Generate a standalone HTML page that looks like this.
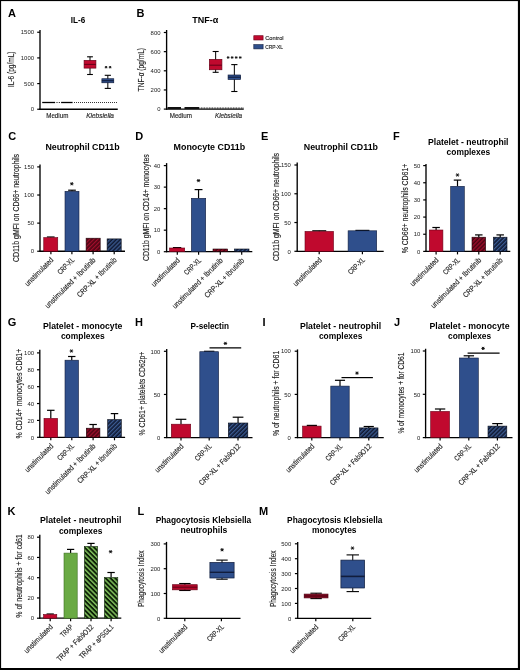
<!DOCTYPE html>
<html><head><meta charset="utf-8"><title>Figure</title>
<style>html,body{margin:0;padding:0;background:#fff;width:520px;height:670px;overflow:hidden}</style>
</head><body>
<svg width="520" height="670" viewBox="0 0 520 670" style="display:block;filter:blur(0.3px)">
<defs>
<pattern id="hr" patternUnits="userSpaceOnUse" width="2.9" height="2.9" patternTransform="rotate(45)"><rect width="2.9" height="2.9" fill="#4a0512"/><rect width="1.3" height="2.9" fill="#a00d2c"/></pattern>
<pattern id="hb" patternUnits="userSpaceOnUse" width="2.9" height="2.9" patternTransform="rotate(45)"><rect width="2.9" height="2.9" fill="#0f1932"/><rect width="1.3" height="2.9" fill="#3b5b92"/></pattern>
<pattern id="hg" patternUnits="userSpaceOnUse" width="3.4" height="3.4" patternTransform="rotate(-45)"><rect width="3.4" height="3.4" fill="#0c2006"/><rect width="1.5" height="3.4" fill="#80bf5c"/></pattern>
</defs>
<rect x="0" y="0" width="520" height="670" fill="#fff"/>
<g font-family='"Liberation Sans", sans-serif'>
<text x="8.00" y="16.60" font-size="11.0" text-anchor="start" font-weight="bold" font-style="normal" fill="#000">A</text>
<text x="78.00" y="23.30" font-size="8.2" text-anchor="middle" font-weight="bold" font-style="normal" fill="#000" textLength="14.4" lengthAdjust="spacingAndGlyphs">IL-6</text>
<line x1="40.00" y1="30.00" x2="40.00" y2="109.75" stroke="#000" stroke-width="1.35"/>
<line x1="37.20" y1="109.25" x2="40.00" y2="109.25" stroke="#000" stroke-width="1.2"/>
<text x="34.00" y="111.48" font-size="6.2" text-anchor="end" font-weight="normal" font-style="normal" fill="#222" textLength="3.3" lengthAdjust="spacingAndGlyphs" stroke="none">0</text>
<line x1="37.20" y1="83.58" x2="40.00" y2="83.58" stroke="#000" stroke-width="1.2"/>
<text x="34.00" y="85.82" font-size="6.2" text-anchor="end" font-weight="normal" font-style="normal" fill="#222" textLength="9.9" lengthAdjust="spacingAndGlyphs" stroke="none">500</text>
<line x1="37.20" y1="57.92" x2="40.00" y2="57.92" stroke="#000" stroke-width="1.2"/>
<text x="34.00" y="60.15" font-size="6.2" text-anchor="end" font-weight="normal" font-style="normal" fill="#222" textLength="13.2" lengthAdjust="spacingAndGlyphs" stroke="none">1000</text>
<line x1="37.20" y1="32.25" x2="40.00" y2="32.25" stroke="#000" stroke-width="1.2"/>
<text x="34.00" y="34.48" font-size="6.2" text-anchor="end" font-weight="normal" font-style="normal" fill="#222" textLength="13.2" lengthAdjust="spacingAndGlyphs" stroke="none">1500</text>
<line x1="39.40" y1="109.25" x2="117.75" y2="109.25" stroke="#000" stroke-width="1.3"/>
<text transform="translate(14.00,69.30) rotate(-90)" font-size="8.2" text-anchor="middle" font-weight="normal" font-style="normal" fill="#222" textLength="35.6" lengthAdjust="spacingAndGlyphs" stroke="#222" stroke-width="0.14">IL-6 (pg/mL)</text>
<text x="57.30" y="117.60" font-size="6.9" text-anchor="middle" font-weight="normal" font-style="normal" fill="#222" textLength="22.2" lengthAdjust="spacingAndGlyphs" stroke="#222" stroke-width="0.14">Medium</text>
<text x="100.10" y="117.60" font-size="6.9" text-anchor="middle" font-weight="normal" font-style="italic" fill="#222" textLength="27.8" lengthAdjust="spacingAndGlyphs" stroke="#222" stroke-width="0.14">Klebsiella</text>
<line x1="42.20" y1="102.50" x2="55.10" y2="102.50" stroke="#000" stroke-width="1.3"/>
<line x1="61.10" y1="102.50" x2="72.60" y2="102.50" stroke="#000" stroke-width="1.3"/>
<line x1="56.50" y1="102.50" x2="60.50" y2="102.50" stroke="#000" stroke-width="1.0" stroke-dasharray="1,1.3"/>
<line x1="74.00" y1="102.50" x2="117.50" y2="102.50" stroke="#000" stroke-width="0.8" stroke-dasharray="1,1"/>
<line x1="90.00" y1="56.80" x2="90.00" y2="74.50" stroke="#000" stroke-width="1.0"/>
<line x1="87.10" y1="56.80" x2="92.90" y2="56.80" stroke="#000" stroke-width="1.1"/>
<line x1="87.10" y1="74.50" x2="92.90" y2="74.50" stroke="#000" stroke-width="1.1"/>
<rect x="84.10" y="60.40" width="11.80" height="7.70" fill="#c0092e" stroke="#6a0018" stroke-width="0.7"/>
<line x1="84.10" y1="64.40" x2="95.90" y2="64.40" stroke="#6a0018" stroke-width="1.1"/>
<line x1="107.83" y1="75.30" x2="107.83" y2="88.40" stroke="#000" stroke-width="1.0"/>
<line x1="104.73" y1="75.30" x2="110.92" y2="75.30" stroke="#000" stroke-width="1.1"/>
<line x1="104.73" y1="88.40" x2="110.92" y2="88.40" stroke="#000" stroke-width="1.1"/>
<rect x="101.90" y="78.75" width="11.85" height="4.00" fill="#2f4f8c" stroke="#111d3c" stroke-width="0.7"/>
<line x1="101.90" y1="80.70" x2="113.75" y2="80.70" stroke="#111d3c" stroke-width="1.1"/>
<path d="M105.12,67.20h1.90M105.60,66.38l0.95,1.65M105.60,68.02l0.95,-1.65" stroke="#111" stroke-width="0.85" stroke-linecap="round"/>
<path d="M109.17,67.20h1.90M109.65,66.38l0.95,1.65M109.65,68.02l0.95,-1.65" stroke="#111" stroke-width="0.85" stroke-linecap="round"/>
<text x="136.40" y="16.90" font-size="11.0" text-anchor="start" font-weight="bold" font-style="normal" fill="#000">B</text>
<text x="205.30" y="23.30" font-size="8.2" text-anchor="middle" font-weight="bold" font-style="normal" fill="#000" textLength="26.0" lengthAdjust="spacingAndGlyphs">TNF-α</text>
<line x1="166.60" y1="30.00" x2="166.60" y2="109.60" stroke="#000" stroke-width="1.35"/>
<line x1="163.80" y1="109.10" x2="166.60" y2="109.10" stroke="#000" stroke-width="1.2"/>
<text x="160.50" y="111.33" font-size="6.2" text-anchor="end" font-weight="normal" font-style="normal" fill="#222" textLength="3.3" lengthAdjust="spacingAndGlyphs" stroke="none">0</text>
<line x1="163.80" y1="89.95" x2="166.60" y2="89.95" stroke="#000" stroke-width="1.2"/>
<text x="160.50" y="92.18" font-size="6.2" text-anchor="end" font-weight="normal" font-style="normal" fill="#222" textLength="9.9" lengthAdjust="spacingAndGlyphs" stroke="none">200</text>
<line x1="163.80" y1="70.80" x2="166.60" y2="70.80" stroke="#000" stroke-width="1.2"/>
<text x="160.50" y="73.03" font-size="6.2" text-anchor="end" font-weight="normal" font-style="normal" fill="#222" textLength="9.9" lengthAdjust="spacingAndGlyphs" stroke="none">400</text>
<line x1="163.80" y1="51.65" x2="166.60" y2="51.65" stroke="#000" stroke-width="1.2"/>
<text x="160.50" y="53.88" font-size="6.2" text-anchor="end" font-weight="normal" font-style="normal" fill="#222" textLength="9.9" lengthAdjust="spacingAndGlyphs" stroke="none">600</text>
<line x1="163.80" y1="32.50" x2="166.60" y2="32.50" stroke="#000" stroke-width="1.2"/>
<text x="160.50" y="34.73" font-size="6.2" text-anchor="end" font-weight="normal" font-style="normal" fill="#222" textLength="9.9" lengthAdjust="spacingAndGlyphs" stroke="none">800</text>
<line x1="166.00" y1="109.10" x2="243.75" y2="109.10" stroke="#000" stroke-width="1.3"/>
<text transform="translate(144.00,69.70) rotate(-90)" font-size="8.2" text-anchor="middle" font-weight="normal" font-style="normal" fill="#222" textLength="43.4" lengthAdjust="spacingAndGlyphs" stroke="#222" stroke-width="0.14">TNF-α (pg/mL)</text>
<text x="180.80" y="117.60" font-size="6.9" text-anchor="middle" font-weight="normal" font-style="normal" fill="#222" textLength="22.2" lengthAdjust="spacingAndGlyphs" stroke="#222" stroke-width="0.14">Medium</text>
<text x="228.50" y="117.60" font-size="6.9" text-anchor="middle" font-weight="normal" font-style="italic" fill="#222" textLength="27.2" lengthAdjust="spacingAndGlyphs" stroke="#222" stroke-width="0.14">Klebsiella</text>
<rect x="167.50" y="107.00" width="13.50" height="2.00" fill="#111"/>
<rect x="184.50" y="107.00" width="14.50" height="2.00" fill="#111"/>
<line x1="199.40" y1="108.00" x2="243.50" y2="108.00" stroke="#000" stroke-width="1.2" stroke-dasharray="0.8,0.8"/>
<line x1="215.65" y1="51.50" x2="215.65" y2="72.30" stroke="#000" stroke-width="1.0"/>
<line x1="212.65" y1="51.50" x2="218.65" y2="51.50" stroke="#000" stroke-width="1.1"/>
<line x1="212.65" y1="72.30" x2="218.65" y2="72.30" stroke="#000" stroke-width="1.1"/>
<rect x="209.40" y="59.40" width="12.50" height="10.35" fill="#c0092e" stroke="#6a0018" stroke-width="0.7"/>
<line x1="209.40" y1="65.20" x2="221.90" y2="65.20" stroke="#6a0018" stroke-width="1.1"/>
<line x1="234.35" y1="64.60" x2="234.35" y2="91.50" stroke="#000" stroke-width="1.0"/>
<line x1="231.25" y1="64.60" x2="237.45" y2="64.60" stroke="#000" stroke-width="1.1"/>
<line x1="231.25" y1="91.50" x2="237.45" y2="91.50" stroke="#000" stroke-width="1.1"/>
<rect x="228.10" y="75.00" width="12.50" height="4.40" fill="#2f4f8c" stroke="#111d3c" stroke-width="0.7"/>
<line x1="228.10" y1="77.20" x2="240.60" y2="77.20" stroke="#111d3c" stroke-width="1.1"/>
<path d="M227.18,57.50h1.90M227.65,56.68l0.95,1.65M227.65,58.32l0.95,-1.65" stroke="#111" stroke-width="0.85" stroke-linecap="round"/>
<path d="M231.22,57.50h1.90M231.70,56.68l0.95,1.65M231.70,58.32l0.95,-1.65" stroke="#111" stroke-width="0.85" stroke-linecap="round"/>
<path d="M235.28,57.50h1.90M235.75,56.68l0.95,1.65M235.75,58.32l0.95,-1.65" stroke="#111" stroke-width="0.85" stroke-linecap="round"/>
<path d="M239.32,57.50h1.90M239.80,56.68l0.95,1.65M239.80,58.32l0.95,-1.65" stroke="#111" stroke-width="0.85" stroke-linecap="round"/>
<rect x="253.80" y="35.70" width="9.30" height="4.30" fill="#c0092e" stroke="#6a0018" stroke-width="0.6"/>
<rect x="253.80" y="44.60" width="9.30" height="4.30" fill="#2f4f8c" stroke="#111d3c" stroke-width="0.6"/>
<text x="265.20" y="39.60" font-size="6.2" text-anchor="start" font-weight="normal" font-style="normal" fill="#222" textLength="18.4" lengthAdjust="spacingAndGlyphs" stroke="#222" stroke-width="0.14">Control</text>
<text x="265.20" y="48.60" font-size="6.2" text-anchor="start" font-weight="normal" font-style="normal" fill="#222" textLength="17.9" lengthAdjust="spacingAndGlyphs" stroke="#222" stroke-width="0.14">CRP-XL</text>
<text x="8.20" y="139.80" font-size="11.0" text-anchor="start" font-weight="bold" font-style="normal" fill="#000">C</text>
<text x="82.50" y="150.00" font-size="8.2" text-anchor="middle" font-weight="bold" font-style="normal" fill="#000" textLength="74.2" lengthAdjust="spacingAndGlyphs">Neutrophil CD11b</text>
<line x1="40.00" y1="164.40" x2="40.00" y2="251.75" stroke="#000" stroke-width="1.35"/>
<line x1="37.20" y1="251.25" x2="40.00" y2="251.25" stroke="#000" stroke-width="1.2"/>
<text x="34.00" y="253.48" font-size="6.2" text-anchor="end" font-weight="normal" font-style="normal" fill="#222" textLength="3.3" lengthAdjust="spacingAndGlyphs" stroke="none">0</text>
<line x1="37.20" y1="223.13" x2="40.00" y2="223.13" stroke="#000" stroke-width="1.2"/>
<text x="34.00" y="225.37" font-size="6.2" text-anchor="end" font-weight="normal" font-style="normal" fill="#222" textLength="6.6" lengthAdjust="spacingAndGlyphs" stroke="none">50</text>
<line x1="37.20" y1="195.02" x2="40.00" y2="195.02" stroke="#000" stroke-width="1.2"/>
<text x="34.00" y="197.25" font-size="6.2" text-anchor="end" font-weight="normal" font-style="normal" fill="#222" textLength="9.9" lengthAdjust="spacingAndGlyphs" stroke="none">100</text>
<line x1="37.20" y1="166.90" x2="40.00" y2="166.90" stroke="#000" stroke-width="1.2"/>
<text x="34.00" y="169.13" font-size="6.2" text-anchor="end" font-weight="normal" font-style="normal" fill="#222" textLength="9.9" lengthAdjust="spacingAndGlyphs" stroke="none">150</text>
<line x1="39.40" y1="251.25" x2="125.00" y2="251.25" stroke="#000" stroke-width="1.3"/>
<line x1="50.90" y1="251.25" x2="50.90" y2="254.25" stroke="#000" stroke-width="1.2"/>
<line x1="71.90" y1="251.25" x2="71.90" y2="254.25" stroke="#000" stroke-width="1.2"/>
<line x1="93.10" y1="251.25" x2="93.10" y2="254.25" stroke="#000" stroke-width="1.2"/>
<line x1="114.20" y1="251.25" x2="114.20" y2="254.25" stroke="#000" stroke-width="1.2"/>
<text transform="translate(19.10,207.95) rotate(-90)" font-size="8.2" text-anchor="middle" font-weight="normal" font-style="normal" fill="#222" textLength="108.1" lengthAdjust="spacingAndGlyphs" stroke="#222" stroke-width="0.14">CD11b gMFI on CD66+ neutrophils</text>
<line x1="50.75" y1="237.60" x2="50.75" y2="237.00" stroke="#000" stroke-width="1.2"/>
<line x1="46.90" y1="237.00" x2="54.60" y2="237.00" stroke="#000" stroke-width="1.2"/>
<rect x="43.75" y="237.60" width="14.00" height="13.65" fill="#c0092e" stroke="#6a0018" stroke-width="0.6"/>
<line x1="72.00" y1="191.30" x2="72.00" y2="190.20" stroke="#000" stroke-width="1.2"/>
<line x1="68.15" y1="190.20" x2="75.85" y2="190.20" stroke="#000" stroke-width="1.2"/>
<rect x="65.00" y="191.30" width="14.00" height="59.95" fill="#2f4f8c" stroke="#111d3c" stroke-width="0.6"/>
<rect x="86.10" y="238.20" width="14.10" height="13.05" fill="url(#hr)" stroke="#1a0005" stroke-width="0.6"/>
<rect x="107.10" y="238.90" width="14.10" height="12.35" fill="url(#hb)" stroke="#050a18" stroke-width="0.6"/>
<path d="M70.45,183.80h2.70M71.12,182.63l1.35,2.34M71.12,184.97l1.35,-2.34" stroke="#111" stroke-width="1.0" stroke-linecap="round"/>
<text transform="translate(53.90,260.55) rotate(-45)" font-size="7.6" text-anchor="end" font-weight="normal" font-style="normal" fill="#222" textLength="37.0" lengthAdjust="spacingAndGlyphs" stroke="#222" stroke-width="0.14">unstimulated</text>
<text transform="translate(74.90,260.55) rotate(-45)" font-size="7.6" text-anchor="end" font-weight="normal" font-style="normal" fill="#222" textLength="20.5" lengthAdjust="spacingAndGlyphs" stroke="#222" stroke-width="0.14">CRP-XL</text>
<text transform="translate(96.10,260.55) rotate(-45)" font-size="7.6" text-anchor="end" font-weight="normal" font-style="normal" fill="#222" textLength="68.0" lengthAdjust="spacingAndGlyphs" stroke="#222" stroke-width="0.14">unstimulated + Ibrutinib</text>
<text transform="translate(117.20,260.55) rotate(-45)" font-size="7.6" text-anchor="end" font-weight="normal" font-style="normal" fill="#222" textLength="52.7" lengthAdjust="spacingAndGlyphs" stroke="#222" stroke-width="0.14">CRP-XL + Ibrutinib</text>
<text x="135.20" y="139.80" font-size="11.0" text-anchor="start" font-weight="bold" font-style="normal" fill="#000">D</text>
<text x="209.38" y="150.00" font-size="8.2" text-anchor="middle" font-weight="bold" font-style="normal" fill="#000" textLength="71.65" lengthAdjust="spacingAndGlyphs">Monocyte CD11b</text>
<line x1="166.60" y1="163.10" x2="166.60" y2="252.20" stroke="#000" stroke-width="1.35"/>
<line x1="163.80" y1="251.70" x2="166.60" y2="251.70" stroke="#000" stroke-width="1.2"/>
<text x="160.30" y="253.93" font-size="6.2" text-anchor="end" font-weight="normal" font-style="normal" fill="#222" textLength="3.3" lengthAdjust="spacingAndGlyphs" stroke="none">0</text>
<line x1="163.80" y1="230.17" x2="166.60" y2="230.17" stroke="#000" stroke-width="1.2"/>
<text x="160.30" y="232.41" font-size="6.2" text-anchor="end" font-weight="normal" font-style="normal" fill="#222" textLength="6.6" lengthAdjust="spacingAndGlyphs" stroke="none">10</text>
<line x1="163.80" y1="208.65" x2="166.60" y2="208.65" stroke="#000" stroke-width="1.2"/>
<text x="160.30" y="210.88" font-size="6.2" text-anchor="end" font-weight="normal" font-style="normal" fill="#222" textLength="6.6" lengthAdjust="spacingAndGlyphs" stroke="none">20</text>
<line x1="163.80" y1="187.12" x2="166.60" y2="187.12" stroke="#000" stroke-width="1.2"/>
<text x="160.30" y="189.36" font-size="6.2" text-anchor="end" font-weight="normal" font-style="normal" fill="#222" textLength="6.6" lengthAdjust="spacingAndGlyphs" stroke="none">30</text>
<line x1="163.80" y1="165.60" x2="166.60" y2="165.60" stroke="#000" stroke-width="1.2"/>
<text x="160.30" y="167.83" font-size="6.2" text-anchor="end" font-weight="normal" font-style="normal" fill="#222" textLength="6.6" lengthAdjust="spacingAndGlyphs" stroke="none">40</text>
<line x1="166.00" y1="251.70" x2="252.30" y2="251.70" stroke="#000" stroke-width="1.3"/>
<line x1="177.30" y1="251.70" x2="177.30" y2="254.70" stroke="#000" stroke-width="1.2"/>
<line x1="198.60" y1="251.70" x2="198.60" y2="254.70" stroke="#000" stroke-width="1.2"/>
<line x1="220.30" y1="251.70" x2="220.30" y2="254.70" stroke="#000" stroke-width="1.2"/>
<line x1="241.70" y1="251.70" x2="241.70" y2="254.70" stroke="#000" stroke-width="1.2"/>
<text transform="translate(149.10,207.70) rotate(-90)" font-size="8.2" text-anchor="middle" font-weight="normal" font-style="normal" fill="#222" textLength="106.8" lengthAdjust="spacingAndGlyphs" stroke="#222" stroke-width="0.14">CD11b gMFI on CD14+ monocytes</text>
<line x1="177.10" y1="248.00" x2="177.10" y2="247.60" stroke="#000" stroke-width="1.2"/>
<line x1="172.92" y1="247.60" x2="181.28" y2="247.60" stroke="#000" stroke-width="1.2"/>
<rect x="169.50" y="248.00" width="15.20" height="3.70" fill="#c0092e" stroke="#6a0018" stroke-width="0.6"/>
<line x1="198.55" y1="198.30" x2="198.55" y2="189.60" stroke="#000" stroke-width="1.2"/>
<line x1="194.62" y1="189.60" x2="202.48" y2="189.60" stroke="#000" stroke-width="1.2"/>
<rect x="191.40" y="198.30" width="14.30" height="53.40" fill="#2f4f8c" stroke="#111d3c" stroke-width="0.6"/>
<rect x="213.00" y="249.00" width="14.60" height="2.70" fill="url(#hr)" stroke="#1a0005" stroke-width="0.6"/>
<rect x="234.50" y="249.00" width="14.50" height="2.70" fill="url(#hb)" stroke="#050a18" stroke-width="0.6"/>
<path d="M197.15,180.60h2.70M197.82,179.43l1.35,2.34M197.82,181.77l1.35,-2.34" stroke="#111" stroke-width="1.0" stroke-linecap="round"/>
<text transform="translate(180.30,261.00) rotate(-45)" font-size="7.6" text-anchor="end" font-weight="normal" font-style="normal" fill="#222" textLength="37.0" lengthAdjust="spacingAndGlyphs" stroke="#222" stroke-width="0.14">unstimulated</text>
<text transform="translate(201.60,261.00) rotate(-45)" font-size="7.6" text-anchor="end" font-weight="normal" font-style="normal" fill="#222" textLength="20.5" lengthAdjust="spacingAndGlyphs" stroke="#222" stroke-width="0.14">CRP-XL</text>
<text transform="translate(223.30,261.00) rotate(-45)" font-size="7.6" text-anchor="end" font-weight="normal" font-style="normal" fill="#222" textLength="68.0" lengthAdjust="spacingAndGlyphs" stroke="#222" stroke-width="0.14">unstimulated + Ibrutinib</text>
<text transform="translate(244.70,261.00) rotate(-45)" font-size="7.6" text-anchor="end" font-weight="normal" font-style="normal" fill="#222" textLength="52.7" lengthAdjust="spacingAndGlyphs" stroke="#222" stroke-width="0.14">CRP-XL + Ibrutinib</text>
<text x="260.90" y="139.80" font-size="11.0" text-anchor="start" font-weight="bold" font-style="normal" fill="#000">E</text>
<text x="340.90" y="150.00" font-size="8.2" text-anchor="middle" font-weight="bold" font-style="normal" fill="#000" textLength="74.2" lengthAdjust="spacingAndGlyphs">Neutrophil CD11b</text>
<line x1="297.20" y1="162.50" x2="297.20" y2="251.80" stroke="#000" stroke-width="1.35"/>
<line x1="294.40" y1="251.30" x2="297.20" y2="251.30" stroke="#000" stroke-width="1.2"/>
<text x="290.80" y="253.53" font-size="6.2" text-anchor="end" font-weight="normal" font-style="normal" fill="#222" textLength="3.3" lengthAdjust="spacingAndGlyphs" stroke="none">0</text>
<line x1="294.40" y1="222.53" x2="297.20" y2="222.53" stroke="#000" stroke-width="1.2"/>
<text x="290.80" y="224.77" font-size="6.2" text-anchor="end" font-weight="normal" font-style="normal" fill="#222" textLength="6.6" lengthAdjust="spacingAndGlyphs" stroke="none">50</text>
<line x1="294.40" y1="193.77" x2="297.20" y2="193.77" stroke="#000" stroke-width="1.2"/>
<text x="290.80" y="196.00" font-size="6.2" text-anchor="end" font-weight="normal" font-style="normal" fill="#222" textLength="9.9" lengthAdjust="spacingAndGlyphs" stroke="none">100</text>
<line x1="294.40" y1="165.00" x2="297.20" y2="165.00" stroke="#000" stroke-width="1.2"/>
<text x="290.80" y="167.23" font-size="6.2" text-anchor="end" font-weight="normal" font-style="normal" fill="#222" textLength="9.9" lengthAdjust="spacingAndGlyphs" stroke="none">150</text>
<line x1="296.60" y1="251.30" x2="383.70" y2="251.30" stroke="#000" stroke-width="1.3"/>
<line x1="319.20" y1="251.30" x2="319.20" y2="254.30" stroke="#000" stroke-width="1.2"/>
<line x1="362.40" y1="251.30" x2="362.40" y2="254.30" stroke="#000" stroke-width="1.2"/>
<text transform="translate(278.70,207.00) rotate(-90)" font-size="8.2" text-anchor="middle" font-weight="normal" font-style="normal" fill="#222" textLength="108.2" lengthAdjust="spacingAndGlyphs" stroke="#222" stroke-width="0.14">CD11b gMFI on CD66+ neutrophils</text>
<line x1="319.25" y1="231.40" x2="319.25" y2="230.80" stroke="#000" stroke-width="1.2"/>
<line x1="312.25" y1="230.80" x2="326.25" y2="230.80" stroke="#000" stroke-width="1.2"/>
<rect x="305.00" y="231.40" width="28.50" height="19.90" fill="#c0092e" stroke="#6a0018" stroke-width="0.6"/>
<line x1="362.40" y1="230.80" x2="362.40" y2="230.40" stroke="#000" stroke-width="1.2"/>
<line x1="355.40" y1="230.40" x2="369.40" y2="230.40" stroke="#000" stroke-width="1.2"/>
<rect x="348.10" y="230.80" width="28.60" height="20.50" fill="#2f4f8c" stroke="#111d3c" stroke-width="0.6"/>
<text transform="translate(322.20,260.60) rotate(-45)" font-size="7.6" text-anchor="end" font-weight="normal" font-style="normal" fill="#222" textLength="37.0" lengthAdjust="spacingAndGlyphs" stroke="#222" stroke-width="0.14">unstimulated</text>
<text transform="translate(365.40,260.60) rotate(-45)" font-size="7.6" text-anchor="end" font-weight="normal" font-style="normal" fill="#222" textLength="20.5" lengthAdjust="spacingAndGlyphs" stroke="#222" stroke-width="0.14">CRP-XL</text>
<text x="392.90" y="139.80" font-size="11.0" text-anchor="start" font-weight="bold" font-style="normal" fill="#000">F</text>
<text x="468.25" y="145.40" font-size="8.2" text-anchor="middle" font-weight="bold" font-style="normal" fill="#000" textLength="80.5" lengthAdjust="spacingAndGlyphs">Platelet - neutrophil</text>
<text x="468.35" y="155.20" font-size="8.2" text-anchor="middle" font-weight="bold" font-style="normal" fill="#000" textLength="43.5" lengthAdjust="spacingAndGlyphs">complexes</text>
<line x1="426.00" y1="164.00" x2="426.00" y2="251.90" stroke="#000" stroke-width="1.35"/>
<line x1="423.20" y1="251.40" x2="426.00" y2="251.40" stroke="#000" stroke-width="1.2"/>
<text x="420.30" y="253.63" font-size="6.2" text-anchor="end" font-weight="normal" font-style="normal" fill="#222" textLength="3.3" lengthAdjust="spacingAndGlyphs" stroke="none">0</text>
<line x1="423.20" y1="234.24" x2="426.00" y2="234.24" stroke="#000" stroke-width="1.2"/>
<text x="420.30" y="236.47" font-size="6.2" text-anchor="end" font-weight="normal" font-style="normal" fill="#222" textLength="6.6" lengthAdjust="spacingAndGlyphs" stroke="none">10</text>
<line x1="423.20" y1="217.08" x2="426.00" y2="217.08" stroke="#000" stroke-width="1.2"/>
<text x="420.30" y="219.31" font-size="6.2" text-anchor="end" font-weight="normal" font-style="normal" fill="#222" textLength="6.6" lengthAdjust="spacingAndGlyphs" stroke="none">20</text>
<line x1="423.20" y1="199.92" x2="426.00" y2="199.92" stroke="#000" stroke-width="1.2"/>
<text x="420.30" y="202.15" font-size="6.2" text-anchor="end" font-weight="normal" font-style="normal" fill="#222" textLength="6.6" lengthAdjust="spacingAndGlyphs" stroke="none">30</text>
<line x1="423.20" y1="182.76" x2="426.00" y2="182.76" stroke="#000" stroke-width="1.2"/>
<text x="420.30" y="184.99" font-size="6.2" text-anchor="end" font-weight="normal" font-style="normal" fill="#222" textLength="6.6" lengthAdjust="spacingAndGlyphs" stroke="none">40</text>
<line x1="423.20" y1="165.60" x2="426.00" y2="165.60" stroke="#000" stroke-width="1.2"/>
<text x="420.30" y="167.83" font-size="6.2" text-anchor="end" font-weight="normal" font-style="normal" fill="#222" textLength="6.6" lengthAdjust="spacingAndGlyphs" stroke="none">50</text>
<line x1="425.40" y1="251.40" x2="510.30" y2="251.40" stroke="#000" stroke-width="1.3"/>
<line x1="436.10" y1="251.40" x2="436.10" y2="254.40" stroke="#000" stroke-width="1.2"/>
<line x1="457.50" y1="251.40" x2="457.50" y2="254.40" stroke="#000" stroke-width="1.2"/>
<line x1="478.80" y1="251.40" x2="478.80" y2="254.40" stroke="#000" stroke-width="1.2"/>
<line x1="500.20" y1="251.40" x2="500.20" y2="254.40" stroke="#000" stroke-width="1.2"/>
<text transform="translate(408.10,208.45) rotate(-90)" font-size="8.2" text-anchor="middle" font-weight="normal" font-style="normal" fill="#222" textLength="89.7" lengthAdjust="spacingAndGlyphs" stroke="#222" stroke-width="0.14">% CD66+ neutrophils CD61+</text>
<line x1="436.10" y1="230.00" x2="436.10" y2="227.50" stroke="#000" stroke-width="1.2"/>
<line x1="432.36" y1="227.50" x2="439.84" y2="227.50" stroke="#000" stroke-width="1.2"/>
<rect x="429.30" y="230.00" width="13.60" height="21.40" fill="#c0092e" stroke="#6a0018" stroke-width="0.6"/>
<line x1="457.50" y1="186.30" x2="457.50" y2="180.10" stroke="#000" stroke-width="1.2"/>
<line x1="453.76" y1="180.10" x2="461.24" y2="180.10" stroke="#000" stroke-width="1.2"/>
<rect x="450.70" y="186.30" width="13.60" height="65.10" fill="#2f4f8c" stroke="#111d3c" stroke-width="0.6"/>
<line x1="478.80" y1="237.20" x2="478.80" y2="234.90" stroke="#000" stroke-width="1.2"/>
<line x1="475.06" y1="234.90" x2="482.54" y2="234.90" stroke="#000" stroke-width="1.2"/>
<rect x="472.00" y="237.20" width="13.60" height="14.20" fill="url(#hr)" stroke="#1a0005" stroke-width="0.6"/>
<line x1="500.20" y1="237.20" x2="500.20" y2="234.90" stroke="#000" stroke-width="1.2"/>
<line x1="496.46" y1="234.90" x2="503.94" y2="234.90" stroke="#000" stroke-width="1.2"/>
<rect x="493.40" y="237.20" width="13.60" height="14.20" fill="url(#hb)" stroke="#050a18" stroke-width="0.6"/>
<path d="M456.15,175.00h2.70M456.82,173.83l1.35,2.34M456.82,176.17l1.35,-2.34" stroke="#111" stroke-width="1.0" stroke-linecap="round"/>
<text transform="translate(439.10,260.70) rotate(-45)" font-size="7.6" text-anchor="end" font-weight="normal" font-style="normal" fill="#222" textLength="37.0" lengthAdjust="spacingAndGlyphs" stroke="#222" stroke-width="0.14">unstimulated</text>
<text transform="translate(460.50,260.70) rotate(-45)" font-size="7.6" text-anchor="end" font-weight="normal" font-style="normal" fill="#222" textLength="20.5" lengthAdjust="spacingAndGlyphs" stroke="#222" stroke-width="0.14">CRP-XL</text>
<text transform="translate(481.80,260.70) rotate(-45)" font-size="7.6" text-anchor="end" font-weight="normal" font-style="normal" fill="#222" textLength="68.0" lengthAdjust="spacingAndGlyphs" stroke="#222" stroke-width="0.14">unstimulated + Ibrutinib</text>
<text transform="translate(503.20,260.70) rotate(-45)" font-size="7.6" text-anchor="end" font-weight="normal" font-style="normal" fill="#222" textLength="52.7" lengthAdjust="spacingAndGlyphs" stroke="#222" stroke-width="0.14">CRP-XL + Ibrutinib</text>
<text x="7.70" y="325.60" font-size="11.0" text-anchor="start" font-weight="bold" font-style="normal" fill="#000">G</text>
<text x="82.70" y="329.20" font-size="8.2" text-anchor="middle" font-weight="bold" font-style="normal" fill="#000" textLength="79.4" lengthAdjust="spacingAndGlyphs">Platelet - monocyte</text>
<text x="82.75" y="339.30" font-size="8.2" text-anchor="middle" font-weight="bold" font-style="normal" fill="#000" textLength="43.7" lengthAdjust="spacingAndGlyphs">complexes</text>
<line x1="39.80" y1="349.70" x2="39.80" y2="437.80" stroke="#000" stroke-width="1.35"/>
<line x1="37.00" y1="437.30" x2="39.80" y2="437.30" stroke="#000" stroke-width="1.2"/>
<text x="34.00" y="439.53" font-size="6.2" text-anchor="end" font-weight="normal" font-style="normal" fill="#222" textLength="3.3" lengthAdjust="spacingAndGlyphs" stroke="none">0</text>
<line x1="37.00" y1="420.42" x2="39.80" y2="420.42" stroke="#000" stroke-width="1.2"/>
<text x="34.00" y="422.65" font-size="6.2" text-anchor="end" font-weight="normal" font-style="normal" fill="#222" textLength="6.6" lengthAdjust="spacingAndGlyphs" stroke="none">20</text>
<line x1="37.00" y1="403.54" x2="39.80" y2="403.54" stroke="#000" stroke-width="1.2"/>
<text x="34.00" y="405.77" font-size="6.2" text-anchor="end" font-weight="normal" font-style="normal" fill="#222" textLength="6.6" lengthAdjust="spacingAndGlyphs" stroke="none">40</text>
<line x1="37.00" y1="386.66" x2="39.80" y2="386.66" stroke="#000" stroke-width="1.2"/>
<text x="34.00" y="388.89" font-size="6.2" text-anchor="end" font-weight="normal" font-style="normal" fill="#222" textLength="6.6" lengthAdjust="spacingAndGlyphs" stroke="none">60</text>
<line x1="37.00" y1="369.78" x2="39.80" y2="369.78" stroke="#000" stroke-width="1.2"/>
<text x="34.00" y="372.01" font-size="6.2" text-anchor="end" font-weight="normal" font-style="normal" fill="#222" textLength="6.6" lengthAdjust="spacingAndGlyphs" stroke="none">80</text>
<line x1="37.00" y1="352.90" x2="39.80" y2="352.90" stroke="#000" stroke-width="1.2"/>
<text x="34.00" y="355.13" font-size="6.2" text-anchor="end" font-weight="normal" font-style="normal" fill="#222" textLength="9.9" lengthAdjust="spacingAndGlyphs" stroke="none">100</text>
<line x1="39.20" y1="437.30" x2="125.10" y2="437.30" stroke="#000" stroke-width="1.3"/>
<line x1="50.80" y1="437.30" x2="50.80" y2="440.30" stroke="#000" stroke-width="1.2"/>
<line x1="71.80" y1="437.30" x2="71.80" y2="440.30" stroke="#000" stroke-width="1.2"/>
<line x1="93.10" y1="437.30" x2="93.10" y2="440.30" stroke="#000" stroke-width="1.2"/>
<line x1="114.50" y1="437.30" x2="114.50" y2="440.30" stroke="#000" stroke-width="1.2"/>
<text transform="translate(21.60,393.55) rotate(-90)" font-size="8.2" text-anchor="middle" font-weight="normal" font-style="normal" fill="#222" textLength="89.7" lengthAdjust="spacingAndGlyphs" stroke="#222" stroke-width="0.14">% CD14+ monocytes CD61+</text>
<line x1="50.80" y1="418.40" x2="50.80" y2="410.30" stroke="#000" stroke-width="1.2"/>
<line x1="47.06" y1="410.30" x2="54.54" y2="410.30" stroke="#000" stroke-width="1.2"/>
<rect x="44.00" y="418.40" width="13.60" height="18.90" fill="#c0092e" stroke="#6a0018" stroke-width="0.6"/>
<line x1="71.75" y1="360.20" x2="71.75" y2="356.50" stroke="#000" stroke-width="1.2"/>
<line x1="68.04" y1="356.50" x2="75.46" y2="356.50" stroke="#000" stroke-width="1.2"/>
<rect x="65.00" y="360.20" width="13.50" height="77.10" fill="#2f4f8c" stroke="#111d3c" stroke-width="0.6"/>
<line x1="93.10" y1="428.20" x2="93.10" y2="424.50" stroke="#000" stroke-width="1.2"/>
<line x1="89.36" y1="424.50" x2="96.84" y2="424.50" stroke="#000" stroke-width="1.2"/>
<rect x="86.30" y="428.20" width="13.60" height="9.10" fill="url(#hr)" stroke="#1a0005" stroke-width="0.6"/>
<line x1="114.50" y1="419.60" x2="114.50" y2="413.60" stroke="#000" stroke-width="1.2"/>
<line x1="110.76" y1="413.60" x2="118.24" y2="413.60" stroke="#000" stroke-width="1.2"/>
<rect x="107.70" y="419.60" width="13.60" height="17.70" fill="url(#hb)" stroke="#050a18" stroke-width="0.6"/>
<path d="M70.05,351.00h2.70M70.73,349.83l1.35,2.34M70.73,352.17l1.35,-2.34" stroke="#111" stroke-width="1.0" stroke-linecap="round"/>
<text transform="translate(53.80,446.60) rotate(-45)" font-size="7.6" text-anchor="end" font-weight="normal" font-style="normal" fill="#222" textLength="37.0" lengthAdjust="spacingAndGlyphs" stroke="#222" stroke-width="0.14">unstimulated</text>
<text transform="translate(74.80,446.60) rotate(-45)" font-size="7.6" text-anchor="end" font-weight="normal" font-style="normal" fill="#222" textLength="20.5" lengthAdjust="spacingAndGlyphs" stroke="#222" stroke-width="0.14">CRP-XL</text>
<text transform="translate(96.10,446.60) rotate(-45)" font-size="7.6" text-anchor="end" font-weight="normal" font-style="normal" fill="#222" textLength="68.0" lengthAdjust="spacingAndGlyphs" stroke="#222" stroke-width="0.14">unstimulated + Ibrutinib</text>
<text transform="translate(117.50,446.60) rotate(-45)" font-size="7.6" text-anchor="end" font-weight="normal" font-style="normal" fill="#222" textLength="52.7" lengthAdjust="spacingAndGlyphs" stroke="#222" stroke-width="0.14">CRP-XL + Ibrutinib</text>
<text x="135.00" y="325.60" font-size="11.0" text-anchor="start" font-weight="bold" font-style="normal" fill="#000">H</text>
<text x="209.80" y="328.60" font-size="8.2" text-anchor="middle" font-weight="bold" font-style="normal" fill="#000" textLength="38.6" lengthAdjust="spacingAndGlyphs">P-selectin</text>
<line x1="166.70" y1="349.00" x2="166.70" y2="438.10" stroke="#000" stroke-width="1.35"/>
<line x1="163.90" y1="437.60" x2="166.70" y2="437.60" stroke="#000" stroke-width="1.2"/>
<text x="160.30" y="439.83" font-size="6.2" text-anchor="end" font-weight="normal" font-style="normal" fill="#222" textLength="3.3" lengthAdjust="spacingAndGlyphs" stroke="none">0</text>
<line x1="163.90" y1="394.45" x2="166.70" y2="394.45" stroke="#000" stroke-width="1.2"/>
<text x="160.30" y="396.68" font-size="6.2" text-anchor="end" font-weight="normal" font-style="normal" fill="#222" textLength="6.6" lengthAdjust="spacingAndGlyphs" stroke="none">50</text>
<line x1="163.90" y1="351.30" x2="166.70" y2="351.30" stroke="#000" stroke-width="1.2"/>
<text x="160.30" y="353.53" font-size="6.2" text-anchor="end" font-weight="normal" font-style="normal" fill="#222" textLength="9.9" lengthAdjust="spacingAndGlyphs" stroke="none">100</text>
<line x1="166.10" y1="437.60" x2="252.50" y2="437.60" stroke="#000" stroke-width="1.3"/>
<line x1="181.00" y1="437.60" x2="181.00" y2="440.60" stroke="#000" stroke-width="1.2"/>
<line x1="209.20" y1="437.60" x2="209.20" y2="440.60" stroke="#000" stroke-width="1.2"/>
<line x1="238.00" y1="437.60" x2="238.00" y2="440.60" stroke="#000" stroke-width="1.2"/>
<text transform="translate(145.20,393.60) rotate(-90)" font-size="8.2" text-anchor="middle" font-weight="normal" font-style="normal" fill="#222" textLength="83.8" lengthAdjust="spacingAndGlyphs" stroke="#222" stroke-width="0.14">% CD61+ platelets CD62p+</text>
<line x1="181.00" y1="424.20" x2="181.00" y2="419.30" stroke="#000" stroke-width="1.2"/>
<line x1="175.67" y1="419.30" x2="186.33" y2="419.30" stroke="#000" stroke-width="1.2"/>
<rect x="171.30" y="424.20" width="19.40" height="13.40" fill="#c0092e" stroke="#6a0018" stroke-width="0.6"/>
<line x1="209.20" y1="351.70" x2="209.20" y2="351.30" stroke="#000" stroke-width="1.2"/>
<line x1="204.03" y1="351.30" x2="214.37" y2="351.30" stroke="#000" stroke-width="1.2"/>
<rect x="199.80" y="351.70" width="18.80" height="85.90" fill="#2f4f8c" stroke="#111d3c" stroke-width="0.6"/>
<line x1="238.05" y1="423.00" x2="238.05" y2="417.20" stroke="#000" stroke-width="1.2"/>
<line x1="232.69" y1="417.20" x2="243.41" y2="417.20" stroke="#000" stroke-width="1.2"/>
<rect x="228.30" y="423.00" width="19.50" height="14.60" fill="url(#hb)" stroke="#050a18" stroke-width="0.6"/>
<line x1="209.50" y1="347.90" x2="241.20" y2="347.90" stroke="#000" stroke-width="1.2"/>
<path d="M224.05,343.40h2.70M224.72,342.23l1.35,2.34M224.72,344.57l1.35,-2.34" stroke="#111" stroke-width="1.0" stroke-linecap="round"/>
<text transform="translate(184.00,446.90) rotate(-45)" font-size="7.6" text-anchor="end" font-weight="normal" font-style="normal" fill="#222" textLength="37.0" lengthAdjust="spacingAndGlyphs" stroke="#222" stroke-width="0.14">unstimulated</text>
<text transform="translate(212.20,446.90) rotate(-45)" font-size="7.6" text-anchor="end" font-weight="normal" font-style="normal" fill="#222" textLength="20.5" lengthAdjust="spacingAndGlyphs" stroke="#222" stroke-width="0.14">CRP-XL</text>
<text transform="translate(241.00,446.90) rotate(-45)" font-size="7.6" text-anchor="end" font-weight="normal" font-style="normal" fill="#222" textLength="55.0" lengthAdjust="spacingAndGlyphs" stroke="#222" stroke-width="0.14">CRP-XL + Fab9O12</text>
<text x="262.50" y="325.60" font-size="11.0" text-anchor="start" font-weight="bold" font-style="normal" fill="#000">I</text>
<text x="340.50" y="329.00" font-size="8.2" text-anchor="middle" font-weight="bold" font-style="normal" fill="#000" textLength="81.2" lengthAdjust="spacingAndGlyphs">Platelet - neutrophil</text>
<text x="340.65" y="339.10" font-size="8.2" text-anchor="middle" font-weight="bold" font-style="normal" fill="#000" textLength="43.5" lengthAdjust="spacingAndGlyphs">complexes</text>
<line x1="297.50" y1="349.40" x2="297.50" y2="438.10" stroke="#000" stroke-width="1.35"/>
<line x1="294.70" y1="437.60" x2="297.50" y2="437.60" stroke="#000" stroke-width="1.2"/>
<text x="290.80" y="439.83" font-size="6.2" text-anchor="end" font-weight="normal" font-style="normal" fill="#222" textLength="3.3" lengthAdjust="spacingAndGlyphs" stroke="none">0</text>
<line x1="294.70" y1="394.40" x2="297.50" y2="394.40" stroke="#000" stroke-width="1.2"/>
<text x="290.80" y="396.63" font-size="6.2" text-anchor="end" font-weight="normal" font-style="normal" fill="#222" textLength="6.6" lengthAdjust="spacingAndGlyphs" stroke="none">50</text>
<line x1="294.70" y1="351.20" x2="297.50" y2="351.20" stroke="#000" stroke-width="1.2"/>
<text x="290.80" y="353.43" font-size="6.2" text-anchor="end" font-weight="normal" font-style="normal" fill="#222" textLength="9.9" lengthAdjust="spacingAndGlyphs" stroke="none">100</text>
<line x1="296.90" y1="437.60" x2="383.75" y2="437.60" stroke="#000" stroke-width="1.3"/>
<line x1="311.80" y1="437.60" x2="311.80" y2="440.60" stroke="#000" stroke-width="1.2"/>
<line x1="340.00" y1="437.60" x2="340.00" y2="440.60" stroke="#000" stroke-width="1.2"/>
<line x1="368.80" y1="437.60" x2="368.80" y2="440.60" stroke="#000" stroke-width="1.2"/>
<text transform="translate(279.10,393.40) rotate(-90)" font-size="8.2" text-anchor="middle" font-weight="normal" font-style="normal" fill="#222" textLength="85.4" lengthAdjust="spacingAndGlyphs" stroke="#222" stroke-width="0.14">% of neutrophils + for CD61</text>
<line x1="311.85" y1="426.10" x2="311.85" y2="425.40" stroke="#000" stroke-width="1.2"/>
<line x1="306.76" y1="425.40" x2="316.94" y2="425.40" stroke="#000" stroke-width="1.2"/>
<rect x="302.60" y="426.10" width="18.50" height="11.50" fill="#c0092e" stroke="#6a0018" stroke-width="0.6"/>
<line x1="340.00" y1="386.10" x2="340.00" y2="380.30" stroke="#000" stroke-width="1.2"/>
<line x1="334.94" y1="380.30" x2="345.06" y2="380.30" stroke="#000" stroke-width="1.2"/>
<rect x="330.80" y="386.10" width="18.40" height="51.50" fill="#2f4f8c" stroke="#111d3c" stroke-width="0.6"/>
<line x1="368.75" y1="427.90" x2="368.75" y2="426.50" stroke="#000" stroke-width="1.2"/>
<line x1="363.66" y1="426.50" x2="373.84" y2="426.50" stroke="#000" stroke-width="1.2"/>
<rect x="359.50" y="427.90" width="18.50" height="9.70" fill="url(#hb)" stroke="#050a18" stroke-width="0.6"/>
<line x1="341.50" y1="377.60" x2="372.90" y2="377.60" stroke="#000" stroke-width="1.2"/>
<path d="M355.65,373.10h2.70M356.32,371.93l1.35,2.34M356.32,374.27l1.35,-2.34" stroke="#111" stroke-width="1.0" stroke-linecap="round"/>
<text transform="translate(314.80,446.90) rotate(-45)" font-size="7.6" text-anchor="end" font-weight="normal" font-style="normal" fill="#222" textLength="37.0" lengthAdjust="spacingAndGlyphs" stroke="#222" stroke-width="0.14">unstimulated</text>
<text transform="translate(343.00,446.90) rotate(-45)" font-size="7.6" text-anchor="end" font-weight="normal" font-style="normal" fill="#222" textLength="20.5" lengthAdjust="spacingAndGlyphs" stroke="#222" stroke-width="0.14">CRP-XL</text>
<text transform="translate(371.80,446.90) rotate(-45)" font-size="7.6" text-anchor="end" font-weight="normal" font-style="normal" fill="#222" textLength="55.0" lengthAdjust="spacingAndGlyphs" stroke="#222" stroke-width="0.14">CRP-XL + Fab9O12</text>
<text x="394.00" y="325.60" font-size="11.0" text-anchor="start" font-weight="bold" font-style="normal" fill="#000">J</text>
<text x="469.50" y="329.00" font-size="8.2" text-anchor="middle" font-weight="bold" font-style="normal" fill="#000" textLength="80.0" lengthAdjust="spacingAndGlyphs">Platelet - monocyte</text>
<text x="469.55" y="339.10" font-size="8.2" text-anchor="middle" font-weight="bold" font-style="normal" fill="#000" textLength="43.1" lengthAdjust="spacingAndGlyphs">complexes</text>
<line x1="425.60" y1="348.75" x2="425.60" y2="438.10" stroke="#000" stroke-width="1.35"/>
<line x1="422.80" y1="437.60" x2="425.60" y2="437.60" stroke="#000" stroke-width="1.2"/>
<text x="420.30" y="439.83" font-size="6.2" text-anchor="end" font-weight="normal" font-style="normal" fill="#222" textLength="3.3" lengthAdjust="spacingAndGlyphs" stroke="none">0</text>
<line x1="422.80" y1="394.30" x2="425.60" y2="394.30" stroke="#000" stroke-width="1.2"/>
<text x="420.30" y="396.53" font-size="6.2" text-anchor="end" font-weight="normal" font-style="normal" fill="#222" textLength="6.6" lengthAdjust="spacingAndGlyphs" stroke="none">50</text>
<line x1="422.80" y1="351.00" x2="425.60" y2="351.00" stroke="#000" stroke-width="1.2"/>
<text x="420.30" y="353.23" font-size="6.2" text-anchor="end" font-weight="normal" font-style="normal" fill="#222" textLength="9.9" lengthAdjust="spacingAndGlyphs" stroke="none">100</text>
<line x1="425.00" y1="437.60" x2="512.50" y2="437.60" stroke="#000" stroke-width="1.3"/>
<line x1="440.10" y1="437.60" x2="440.10" y2="440.60" stroke="#000" stroke-width="1.2"/>
<line x1="468.80" y1="437.60" x2="468.80" y2="440.60" stroke="#000" stroke-width="1.2"/>
<line x1="497.40" y1="437.60" x2="497.40" y2="440.60" stroke="#000" stroke-width="1.2"/>
<text transform="translate(404.20,393.10) rotate(-90)" font-size="8.2" text-anchor="middle" font-weight="normal" font-style="normal" fill="#222" textLength="81.0" lengthAdjust="spacingAndGlyphs" stroke="#222" stroke-width="0.14">% of monocytes + for CD61</text>
<line x1="440.10" y1="411.40" x2="440.10" y2="409.00" stroke="#000" stroke-width="1.2"/>
<line x1="434.93" y1="409.00" x2="445.27" y2="409.00" stroke="#000" stroke-width="1.2"/>
<rect x="430.70" y="411.40" width="18.80" height="26.20" fill="#c0092e" stroke="#6a0018" stroke-width="0.6"/>
<line x1="468.85" y1="358.00" x2="468.85" y2="355.80" stroke="#000" stroke-width="1.2"/>
<line x1="463.65" y1="355.80" x2="474.05" y2="355.80" stroke="#000" stroke-width="1.2"/>
<rect x="459.40" y="358.00" width="18.90" height="79.60" fill="#2f4f8c" stroke="#111d3c" stroke-width="0.6"/>
<line x1="497.40" y1="426.10" x2="497.40" y2="423.60" stroke="#000" stroke-width="1.2"/>
<line x1="492.23" y1="423.60" x2="502.57" y2="423.60" stroke="#000" stroke-width="1.2"/>
<rect x="488.00" y="426.10" width="18.80" height="11.50" fill="url(#hb)" stroke="#050a18" stroke-width="0.6"/>
<line x1="467.60" y1="353.10" x2="499.60" y2="353.10" stroke="#000" stroke-width="1.2"/>
<path d="M481.75,348.40h2.70M482.43,347.23l1.35,2.34M482.43,349.57l1.35,-2.34" stroke="#111" stroke-width="1.0" stroke-linecap="round"/>
<text transform="translate(443.10,446.90) rotate(-45)" font-size="7.6" text-anchor="end" font-weight="normal" font-style="normal" fill="#222" textLength="37.0" lengthAdjust="spacingAndGlyphs" stroke="#222" stroke-width="0.14">unstimulated</text>
<text transform="translate(471.80,446.90) rotate(-45)" font-size="7.6" text-anchor="end" font-weight="normal" font-style="normal" fill="#222" textLength="20.5" lengthAdjust="spacingAndGlyphs" stroke="#222" stroke-width="0.14">CRP-XL</text>
<text transform="translate(500.40,446.90) rotate(-45)" font-size="7.6" text-anchor="end" font-weight="normal" font-style="normal" fill="#222" textLength="55.0" lengthAdjust="spacingAndGlyphs" stroke="#222" stroke-width="0.14">CRP-XL + Fab9O12</text>
<text x="7.60" y="514.60" font-size="11.0" text-anchor="start" font-weight="bold" font-style="normal" fill="#000">K</text>
<text x="80.70" y="523.20" font-size="8.2" text-anchor="middle" font-weight="bold" font-style="normal" fill="#000" textLength="81.6" lengthAdjust="spacingAndGlyphs">Platelet - neutrophil</text>
<text x="80.65" y="533.60" font-size="8.2" text-anchor="middle" font-weight="bold" font-style="normal" fill="#000" textLength="43.5" lengthAdjust="spacingAndGlyphs">complexes</text>
<line x1="39.80" y1="534.70" x2="39.80" y2="618.70" stroke="#000" stroke-width="1.35"/>
<line x1="37.00" y1="618.20" x2="39.80" y2="618.20" stroke="#000" stroke-width="1.2"/>
<text x="34.00" y="620.43" font-size="6.2" text-anchor="end" font-weight="normal" font-style="normal" fill="#222" textLength="3.3" lengthAdjust="spacingAndGlyphs" stroke="none">0</text>
<line x1="37.00" y1="597.95" x2="39.80" y2="597.95" stroke="#000" stroke-width="1.2"/>
<text x="34.00" y="600.18" font-size="6.2" text-anchor="end" font-weight="normal" font-style="normal" fill="#222" textLength="6.6" lengthAdjust="spacingAndGlyphs" stroke="none">20</text>
<line x1="37.00" y1="577.70" x2="39.80" y2="577.70" stroke="#000" stroke-width="1.2"/>
<text x="34.00" y="579.93" font-size="6.2" text-anchor="end" font-weight="normal" font-style="normal" fill="#222" textLength="6.6" lengthAdjust="spacingAndGlyphs" stroke="none">40</text>
<line x1="37.00" y1="557.45" x2="39.80" y2="557.45" stroke="#000" stroke-width="1.2"/>
<text x="34.00" y="559.68" font-size="6.2" text-anchor="end" font-weight="normal" font-style="normal" fill="#222" textLength="6.6" lengthAdjust="spacingAndGlyphs" stroke="none">60</text>
<line x1="37.00" y1="537.20" x2="39.80" y2="537.20" stroke="#000" stroke-width="1.2"/>
<text x="34.00" y="539.43" font-size="6.2" text-anchor="end" font-weight="normal" font-style="normal" fill="#222" textLength="6.6" lengthAdjust="spacingAndGlyphs" stroke="none">80</text>
<line x1="39.20" y1="618.20" x2="121.30" y2="618.20" stroke="#000" stroke-width="1.3"/>
<line x1="50.20" y1="618.20" x2="50.20" y2="621.20" stroke="#000" stroke-width="1.2"/>
<line x1="70.60" y1="618.20" x2="70.60" y2="621.20" stroke="#000" stroke-width="1.2"/>
<line x1="91.00" y1="618.20" x2="91.00" y2="621.20" stroke="#000" stroke-width="1.2"/>
<line x1="111.10" y1="618.20" x2="111.10" y2="621.20" stroke="#000" stroke-width="1.2"/>
<text transform="translate(22.00,576.00) rotate(-90)" font-size="8.2" text-anchor="middle" font-weight="normal" font-style="normal" fill="#222" textLength="83.4" lengthAdjust="spacingAndGlyphs" stroke="#222" stroke-width="0.14">% of neutrophils + for cd61</text>
<line x1="50.20" y1="614.50" x2="50.20" y2="614.00" stroke="#000" stroke-width="1.2"/>
<line x1="46.57" y1="614.00" x2="53.83" y2="614.00" stroke="#000" stroke-width="1.2"/>
<rect x="43.60" y="614.50" width="13.20" height="3.70" fill="#c0092e" stroke="#6a0018" stroke-width="0.6"/>
<line x1="70.60" y1="553.10" x2="70.60" y2="549.40" stroke="#000" stroke-width="1.2"/>
<line x1="66.97" y1="549.40" x2="74.23" y2="549.40" stroke="#000" stroke-width="1.2"/>
<rect x="64.00" y="553.10" width="13.20" height="65.10" fill="#6aaa44" stroke="#3d6e22" stroke-width="0.6"/>
<line x1="91.00" y1="546.50" x2="91.00" y2="543.40" stroke="#000" stroke-width="1.2"/>
<line x1="87.37" y1="543.40" x2="94.63" y2="543.40" stroke="#000" stroke-width="1.2"/>
<rect x="84.40" y="546.50" width="13.20" height="71.70" fill="url(#hg)" stroke="#10250a" stroke-width="0.6"/>
<line x1="111.10" y1="577.60" x2="111.10" y2="572.50" stroke="#000" stroke-width="1.2"/>
<line x1="107.41" y1="572.50" x2="114.78" y2="572.50" stroke="#000" stroke-width="1.2"/>
<rect x="104.40" y="577.60" width="13.40" height="40.60" fill="url(#hg)" stroke="#10250a" stroke-width="0.6"/>
<path d="M109.25,551.70h2.70M109.92,550.53l1.35,2.34M109.92,552.87l1.35,-2.34" stroke="#111" stroke-width="1.0" stroke-linecap="round"/>
<text transform="translate(53.20,627.50) rotate(-45)" font-size="7.6" text-anchor="end" font-weight="normal" font-style="normal" fill="#222" textLength="37.0" lengthAdjust="spacingAndGlyphs" stroke="#222" stroke-width="0.14">unstimulated</text>
<text transform="translate(73.60,627.50) rotate(-45)" font-size="7.6" text-anchor="end" font-weight="normal" font-style="normal" fill="#222" textLength="14.5" lengthAdjust="spacingAndGlyphs" stroke="#222" stroke-width="0.14">TRAP</text>
<text transform="translate(94.00,627.50) rotate(-45)" font-size="7.6" text-anchor="end" font-weight="normal" font-style="normal" fill="#222" textLength="48.5" lengthAdjust="spacingAndGlyphs" stroke="#222" stroke-width="0.14">TRAP + Fab9O12</text>
<text transform="translate(114.10,627.50) rotate(-45)" font-size="7.6" text-anchor="end" font-weight="normal" font-style="normal" fill="#222" textLength="45.0" lengthAdjust="spacingAndGlyphs" stroke="#222" stroke-width="0.14">TRAP + aPSGL1</text>
<text x="137.60" y="514.60" font-size="11.0" text-anchor="start" font-weight="bold" font-style="normal" fill="#000">L</text>
<text x="203.45" y="522.80" font-size="8.2" text-anchor="middle" font-weight="bold" font-style="normal" fill="#000" textLength="95.5" lengthAdjust="spacingAndGlyphs">Phagocytosis Klebsiella</text>
<text x="203.90" y="533.30" font-size="8.2" text-anchor="middle" font-weight="bold" font-style="normal" fill="#000" textLength="47.0" lengthAdjust="spacingAndGlyphs">neutrophils</text>
<line x1="166.50" y1="541.90" x2="166.50" y2="618.80" stroke="#000" stroke-width="1.35"/>
<line x1="163.70" y1="618.30" x2="166.50" y2="618.30" stroke="#000" stroke-width="1.2"/>
<text x="160.30" y="620.53" font-size="6.2" text-anchor="end" font-weight="normal" font-style="normal" fill="#222" textLength="3.3" lengthAdjust="spacingAndGlyphs" stroke="none">0</text>
<line x1="163.70" y1="593.50" x2="166.50" y2="593.50" stroke="#000" stroke-width="1.2"/>
<text x="160.30" y="595.73" font-size="6.2" text-anchor="end" font-weight="normal" font-style="normal" fill="#222" textLength="9.9" lengthAdjust="spacingAndGlyphs" stroke="none">100</text>
<line x1="163.70" y1="568.70" x2="166.50" y2="568.70" stroke="#000" stroke-width="1.2"/>
<text x="160.30" y="570.93" font-size="6.2" text-anchor="end" font-weight="normal" font-style="normal" fill="#222" textLength="9.9" lengthAdjust="spacingAndGlyphs" stroke="none">200</text>
<line x1="163.70" y1="543.90" x2="166.50" y2="543.90" stroke="#000" stroke-width="1.2"/>
<text x="160.30" y="546.13" font-size="6.2" text-anchor="end" font-weight="normal" font-style="normal" fill="#222" textLength="9.9" lengthAdjust="spacingAndGlyphs" stroke="none">300</text>
<line x1="165.90" y1="618.30" x2="240.50" y2="618.30" stroke="#000" stroke-width="1.3"/>
<line x1="184.80" y1="618.30" x2="184.80" y2="621.30" stroke="#000" stroke-width="1.2"/>
<line x1="221.40" y1="618.30" x2="221.40" y2="621.30" stroke="#000" stroke-width="1.2"/>
<text transform="translate(144.20,578.75) rotate(-90)" font-size="8.2" text-anchor="middle" font-weight="normal" font-style="normal" fill="#222" textLength="56.7" lengthAdjust="spacingAndGlyphs" stroke="#222" stroke-width="0.14">Phagocytosis Index</text>
<line x1="184.90" y1="583.50" x2="184.90" y2="590.50" stroke="#000" stroke-width="1.0"/>
<line x1="179.20" y1="583.50" x2="190.60" y2="583.50" stroke="#000" stroke-width="1.1"/>
<line x1="179.20" y1="590.50" x2="190.60" y2="590.50" stroke="#000" stroke-width="1.1"/>
<rect x="172.60" y="584.70" width="24.60" height="5.10" fill="#b3082a" stroke="#6a0018" stroke-width="0.7"/>
<line x1="172.60" y1="587.20" x2="197.20" y2="587.20" stroke="#6a0018" stroke-width="1.1"/>
<line x1="222.00" y1="560.10" x2="222.00" y2="579.20" stroke="#000" stroke-width="1.0"/>
<line x1="216.30" y1="560.10" x2="227.70" y2="560.10" stroke="#000" stroke-width="1.1"/>
<line x1="216.30" y1="579.20" x2="227.70" y2="579.20" stroke="#000" stroke-width="1.1"/>
<rect x="209.90" y="562.40" width="24.20" height="15.60" fill="#2f4f8c" stroke="#111d3c" stroke-width="0.7"/>
<line x1="209.90" y1="572.30" x2="234.10" y2="572.30" stroke="#111d3c" stroke-width="1.4"/>
<path d="M220.75,549.80h2.70M221.42,548.63l1.35,2.34M221.42,550.97l1.35,-2.34" stroke="#111" stroke-width="1.0" stroke-linecap="round"/>
<text transform="translate(187.80,627.60) rotate(-45)" font-size="7.6" text-anchor="end" font-weight="normal" font-style="normal" fill="#222" textLength="37.0" lengthAdjust="spacingAndGlyphs" stroke="#222" stroke-width="0.14">unstimulated</text>
<text transform="translate(224.40,627.60) rotate(-45)" font-size="7.6" text-anchor="end" font-weight="normal" font-style="normal" fill="#222" textLength="20.5" lengthAdjust="spacingAndGlyphs" stroke="#222" stroke-width="0.14">CRP-XL</text>
<text x="258.90" y="514.60" font-size="11.0" text-anchor="start" font-weight="bold" font-style="normal" fill="#000">M</text>
<text x="334.77" y="522.80" font-size="8.2" text-anchor="middle" font-weight="bold" font-style="normal" fill="#000" textLength="95.35" lengthAdjust="spacingAndGlyphs">Phagocytosis Klebsiella</text>
<text x="334.30" y="533.30" font-size="8.2" text-anchor="middle" font-weight="bold" font-style="normal" fill="#000" textLength="44.4" lengthAdjust="spacingAndGlyphs">monocytes</text>
<line x1="297.70" y1="541.90" x2="297.70" y2="618.80" stroke="#000" stroke-width="1.35"/>
<line x1="294.90" y1="618.30" x2="297.70" y2="618.30" stroke="#000" stroke-width="1.2"/>
<text x="291.20" y="620.53" font-size="6.2" text-anchor="end" font-weight="normal" font-style="normal" fill="#222" textLength="3.3" lengthAdjust="spacingAndGlyphs" stroke="none">0</text>
<line x1="294.90" y1="603.40" x2="297.70" y2="603.40" stroke="#000" stroke-width="1.2"/>
<text x="291.20" y="605.63" font-size="6.2" text-anchor="end" font-weight="normal" font-style="normal" fill="#222" textLength="9.9" lengthAdjust="spacingAndGlyphs" stroke="none">100</text>
<line x1="294.90" y1="588.50" x2="297.70" y2="588.50" stroke="#000" stroke-width="1.2"/>
<text x="291.20" y="590.73" font-size="6.2" text-anchor="end" font-weight="normal" font-style="normal" fill="#222" textLength="9.9" lengthAdjust="spacingAndGlyphs" stroke="none">200</text>
<line x1="294.90" y1="573.60" x2="297.70" y2="573.60" stroke="#000" stroke-width="1.2"/>
<text x="291.20" y="575.83" font-size="6.2" text-anchor="end" font-weight="normal" font-style="normal" fill="#222" textLength="9.9" lengthAdjust="spacingAndGlyphs" stroke="none">300</text>
<line x1="294.90" y1="558.70" x2="297.70" y2="558.70" stroke="#000" stroke-width="1.2"/>
<text x="291.20" y="560.93" font-size="6.2" text-anchor="end" font-weight="normal" font-style="normal" fill="#222" textLength="9.9" lengthAdjust="spacingAndGlyphs" stroke="none">400</text>
<line x1="294.90" y1="543.80" x2="297.70" y2="543.80" stroke="#000" stroke-width="1.2"/>
<text x="291.20" y="546.03" font-size="6.2" text-anchor="end" font-weight="normal" font-style="normal" fill="#222" textLength="9.9" lengthAdjust="spacingAndGlyphs" stroke="none">500</text>
<line x1="297.10" y1="618.30" x2="371.20" y2="618.30" stroke="#000" stroke-width="1.3"/>
<line x1="315.80" y1="618.30" x2="315.80" y2="621.30" stroke="#000" stroke-width="1.2"/>
<line x1="352.80" y1="618.30" x2="352.80" y2="621.30" stroke="#000" stroke-width="1.2"/>
<text transform="translate(275.80,578.75) rotate(-90)" font-size="8.2" text-anchor="middle" font-weight="normal" font-style="normal" fill="#222" textLength="56.7" lengthAdjust="spacingAndGlyphs" stroke="#222" stroke-width="0.14">Phagocytosis Index</text>
<line x1="316.10" y1="593.20" x2="316.10" y2="598.60" stroke="#000" stroke-width="1.0"/>
<line x1="310.40" y1="593.20" x2="321.80" y2="593.20" stroke="#000" stroke-width="1.1"/>
<line x1="310.40" y1="598.60" x2="321.80" y2="598.60" stroke="#000" stroke-width="1.1"/>
<rect x="304.20" y="594.10" width="23.80" height="3.80" fill="#8e0a24" stroke="#4a0010" stroke-width="0.7"/>
<line x1="304.20" y1="596.00" x2="328.00" y2="596.00" stroke="#4a0010" stroke-width="1.1"/>
<line x1="352.75" y1="554.90" x2="352.75" y2="591.60" stroke="#000" stroke-width="1.0"/>
<line x1="346.55" y1="554.90" x2="358.95" y2="554.90" stroke="#000" stroke-width="1.1"/>
<line x1="346.55" y1="591.60" x2="358.95" y2="591.60" stroke="#000" stroke-width="1.1"/>
<rect x="340.90" y="560.10" width="23.70" height="27.90" fill="#2f4f8c" stroke="#111d3c" stroke-width="0.7"/>
<line x1="340.90" y1="576.40" x2="364.60" y2="576.40" stroke="#111d3c" stroke-width="1.6"/>
<path d="M351.15,548.10h2.70M351.82,546.93l1.35,2.34M351.82,549.27l1.35,-2.34" stroke="#111" stroke-width="1.0" stroke-linecap="round"/>
<text transform="translate(318.80,627.60) rotate(-45)" font-size="7.6" text-anchor="end" font-weight="normal" font-style="normal" fill="#222" textLength="37.0" lengthAdjust="spacingAndGlyphs" stroke="#222" stroke-width="0.14">unstimulated</text>
<text transform="translate(355.80,627.60) rotate(-45)" font-size="7.6" text-anchor="end" font-weight="normal" font-style="normal" fill="#222" textLength="20.5" lengthAdjust="spacingAndGlyphs" stroke="#222" stroke-width="0.14">CRP-XL</text>
</g>
<rect x="0.5" y="0.5" width="518.3" height="668.3" fill="none" stroke="#000" stroke-width="1.2"/>
<line x1="0" y1="669" x2="520" y2="669" stroke="#000" stroke-width="2.2"/>
<line x1="519" y1="0" x2="519" y2="670" stroke="#000" stroke-width="2.2"/>
</svg>
</body></html>
